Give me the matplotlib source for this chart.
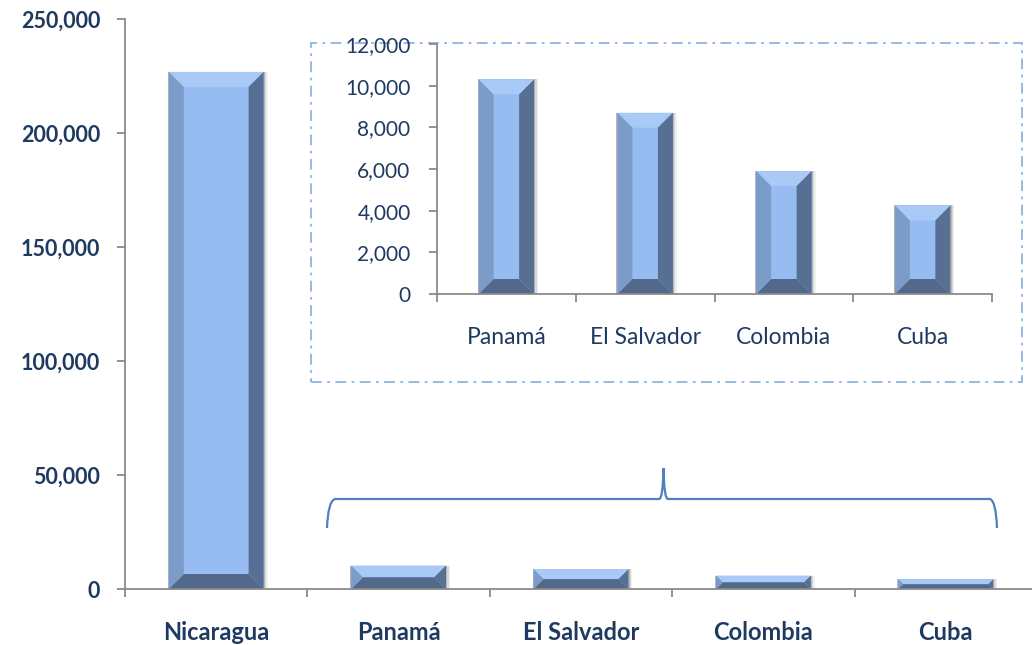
import numpy as np
import matplotlib.pyplot as plt
from matplotlib.patches import Polygon, Rectangle, PathPatch
from matplotlib.path import Path
from matplotlib.transforms import IdentityTransform
from matplotlib.ticker import FuncFormatter

countries = ['Nicaragua', 'Panamá', 'El Salvador', 'Colombia', 'Cuba']
people = [226800, 10300, 8700, 5900, 4250]
inset_countries = countries[1:]
inset_people = people[1:]

main_ticks = [0, 50000, 100000, 150000, 200000, 250000]
inset_ticks = [0, 2000, 4000, 6000, 8000, 10000, 12000]

W, H = 1032, 645
plt.rcParams['font.family'] = ['Lato', 'DejaVu Sans']

FACE = '#97bcf2'
LEFT = '#7b9bc8'
RIGHT = '#566f92'
TOP = '#a9caf7'
BOTTOM = '#52698b'
LABEL = '#1f3a60'
AXIS = '#8a8a8a'
BRACE = '#4f81bd'


def px(x, y):
    # pixel position measured from the top left of the picture -> display coords
    return (x, H - y)


def bevel_bars(ax, bars, edge=15):
    # fake the bevelled look: four trapezoids round the light face
    ident = IdentityTransform()
    for bar in bars:
        (x0, y0), (x1, y1) = ax.transData.transform(
            [(bar.get_x(), bar.get_y()),
             (bar.get_x() + bar.get_width(), bar.get_y() + bar.get_height())])
        b = min(edge, (y1 - y0) / 2, (x1 - x0) / 2)
        # soft drop shadow
        for off, a in [(4, 0.06), (2.5, 0.10), (1.2, 0.14)]:
            ax.add_patch(Rectangle((x0 - 1, y0 - off), x1 - x0 + 1 + off, y1 - y0 + off,
                                   transform=ident, color='black', alpha=a, lw=0, zorder=1.5))
        shapes = [
            ([(x0, y1), (x1, y1), (x1 - b, y1 - b), (x0 + b, y1 - b)], TOP),
            ([(x0, y0), (x1, y0), (x1 - b, y0 + b), (x0 + b, y0 + b)], BOTTOM),
            ([(x0, y0), (x0 + b, y0 + b), (x0 + b, y1 - b), (x0, y1)], LEFT),
            ([(x1, y0), (x1, y1), (x1 - b, y1 - b), (x1 - b, y0 + b)], RIGHT),
        ]
        for pts, c in shapes:
            ax.add_patch(Polygon(pts, closed=True, transform=ident, facecolor=c,
                                 edgecolor='none', zorder=2.1))


def style_axis(ax, labels, ticks, bold):
    n = len(labels)
    ax.set_xlim(-0.5, n - 0.5)
    ax.set_ylim(ticks[0], ticks[-1])
    ax.set_yticks(ticks)
    ax.yaxis.set_major_formatter(FuncFormatter(lambda v, p: f'{int(v):,}'))
    ax.set_xticks(np.arange(n))
    ax.set_xticklabels(labels)
    ax.set_xticks(np.arange(n + 1) - 0.5, minor=True)
    for s in ['top', 'right']:
        ax.spines[s].set_visible(False)
    for s in ['left', 'bottom']:
        ax.spines[s].set_color(AXIS)
        ax.spines[s].set_linewidth(1.3)
    ax.tick_params(axis='x', which='major', length=0, pad=24 if not bold else 23)
    ax.tick_params(axis='x', which='minor', length=6, direction='out',
                   color=AXIS, width=1.3)
    ax.tick_params(axis='y', length=6, direction='out', color=AXIS, width=1.3,
                   pad=13 if not bold else 12)
    weight = 'bold' if bold else 'normal'
    for lab in ax.get_xticklabels():
        lab.set_fontsize(17 if bold else 16.5)
        lab.set_fontweight(weight)
        lab.set_color(LABEL)
    for lab in ax.get_yticklabels():
        lab.set_fontsize(15.5 if bold else 15)
        lab.set_fontweight(weight)
        lab.set_color(LABEL)
    ax.patch.set_alpha(0)


fig = plt.figure(figsize=(W / 100, H / 100), dpi=100)

# main chart
ax = fig.add_axes([125 / W, 56 / H, 912 / W, 570 / H])
bars = ax.bar(np.arange(len(countries)), people, width=0.52, color=FACE, zorder=2)
style_axis(ax, countries, main_ticks, bold=True)
bevel_bars(ax, bars)

# brace over the small countries
verts = [px(327, 528), px(328, 501), px(335, 499),
         px(659, 499), px(663, 499), px(663.5, 468),
         px(664, 499), px(668, 499),
         px(990, 499), px(996, 501), px(997, 528)]
codes = [Path.MOVETO, Path.CURVE3, Path.CURVE3,
         Path.LINETO, Path.CURVE3, Path.CURVE3,
         Path.CURVE3, Path.CURVE3,
         Path.LINETO, Path.CURVE3, Path.CURVE3]
fig.add_artist(PathPatch(Path(verts, codes), transform=IdentityTransform(),
                         facecolor='none', edgecolor=BRACE, lw=1.6))

# dash-dot frame round the zoomed chart
fig.add_artist(Rectangle(px(311, 382), 1022 - 311, 382 - 43, transform=IdentityTransform(),
                         facecolor='white', edgecolor='#8db3e2', lw=1.3,
                         linestyle=(0, (6, 3, 1.5, 3)), zorder=3))

# zoomed chart
ax2 = fig.add_axes([437 / W, (H - 294) / H, (992 - 437) / W, 250 / H], zorder=4)
bars2 = ax2.bar(np.arange(len(inset_countries)), inset_people, width=0.40, color=FACE, zorder=2)
style_axis(ax2, inset_countries, inset_ticks, bold=False)
bevel_bars(ax2, bars2)

fig.savefig('out.png', dpi=100)
